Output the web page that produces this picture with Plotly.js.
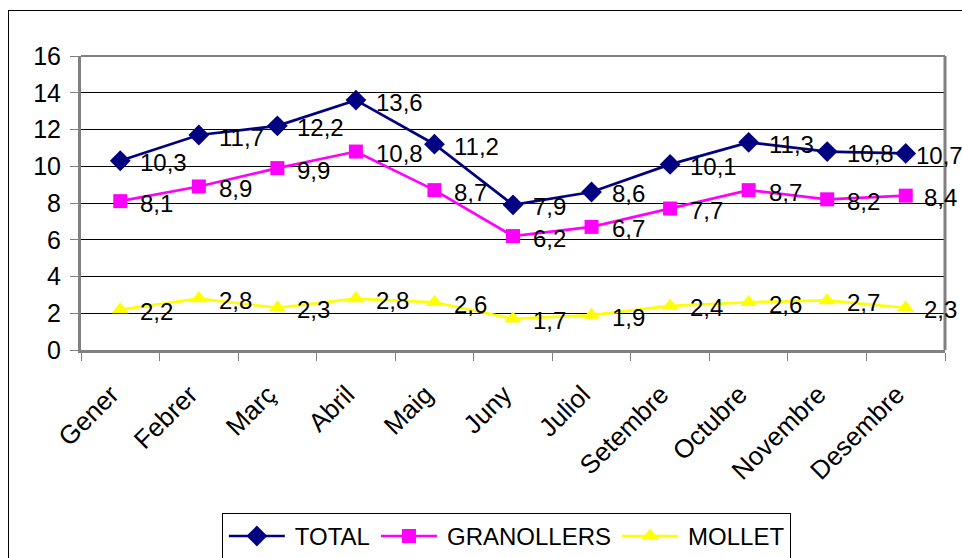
<!DOCTYPE html>
<html>
<head>
<meta charset="utf-8">
<script src="https://cdn.plot.ly/plotly-3.0.1.min.js"></script>
<style>
html,body{margin:0;padding:0;background:#fff;overflow:hidden;}
#chart{width:962px;height:558px;position:absolute;left:0;top:0;}
#frame{position:absolute;left:8px;top:10px;width:1000px;height:600px;border:1.5px solid #000;pointer-events:none;}
</style>
</head>
<body>
<div id="chart"></div>
<div id="frame"></div>
<script>
const months = ["Gener","Febrer","Març","Abril","Maig","Juny","Juliol","Setembre","Octubre","Novembre","Desembre"];
const total = [10.3, 11.7, 12.2, 13.6, 11.2, 7.9, 8.6, 10.1, 11.3, 10.8, 10.7];
const granollers = [8.1, 8.9, 9.9, 10.8, 8.7, 6.2, 6.7, 7.7, 8.7, 8.2, 8.4];
const mollet = [2.2, 2.8, 2.3, 2.8, 2.6, 1.7, 1.9, 2.4, 2.6, 2.7, 2.3];
const yTicks = [0, 2, 4, 6, 8, 10, 12, 14, 16];

const FONT = "Liberation Sans, Arial, sans-serif";

function series(name, vals, color, symbol, size) {
  return {
    type: "scatter", mode: "lines+markers", name: name,
    x: months, y: vals,
    line: {color: color, width: 2.7},
    marker: {color: color, symbol: symbol, size: size, line: {width: 0}},
    cliponaxis: false
  };
}

const traces = [
  series("TOTAL", total, "#000080", "diamond", 16),
  series("GRANOLLERS", granollers, "#FF00FF", "square", 14),
  series("MOLLET", mollet, "#FFFF00", "triangle-up", 15)
];

const fmt = v => v.toFixed(1).replace(".", ",");
const annotations = [];
[total, granollers, mollet].forEach((arr, s) => {
  arr.forEach((v, i) => {
    const last = i === arr.length - 1;
    annotations.push({
      x: months[i], y: v, xref: "x", yref: "y",
      text: fmt(v), showarrow: false,
      xanchor: "left", yanchor: "middle",
      xshift: last ? (s === 0 ? 8 : 16) : 18, yshift: -2,
      font: {family: FONT, size: 24, color: "#000"}
    });
  });
});

const layout = {
  width: 962, height: 558,
  margin: {l: 81, r: 17, t: 56, b: 208, autoexpand: false},
  paper_bgcolor: "#fff", plot_bgcolor: "#fff",
  font: {family: FONT, size: 24, color: "#000"},
  showlegend: true,
  legend: {
    orientation: "h", x: 0.163, y: -0.554, xanchor: "left", yanchor: "top",
    bordercolor: "#000", borderwidth: 1, bgcolor: "#fff",
    font: {family: FONT, size: 24, color: "#000"},
    itemwidth: 62, tracegroupgap: 0
  },
  xaxis: {
    type: "category",
    range: [-0.5, months.length - 0.5],
    autorange: false,
    automargin: false,
    tickangle: -45,
    ticks: "outside", ticklen: 8, tickcolor: "#808080", tickwidth: 1,
    tickson: "boundaries",
    showline: true, linecolor: "#808080", linewidth: 3,
    showgrid: false, zeroline: false,
    ticklabelstandoff: 16,
    ticklabelshift: -9,
    tickfont: {family: FONT, size: 26, color: "#000"},
    fixedrange: true
  },
  yaxis: {
    range: [0, 16], autorange: false, automargin: false,
    tickvals: yTicks, ticktext: yTicks.map(String),
    ticks: "outside", ticklen: 8, tickcolor: "#808080", tickwidth: 1,
    showline: true, linecolor: "#808080", linewidth: 3,
    showgrid: true, gridcolor: "#000", gridwidth: 1,
    zeroline: false,
    ticklabelstandoff: 4,
    tickfont: {family: FONT, size: 25, color: "#000"},
    fixedrange: true
  },
  shapes: [
    {type: "line", xref: "paper", yref: "paper", x0: 0, x1: 1, y0: 1, y1: 1, line: {color: "#808080", width: 2}},
    {type: "line", xref: "paper", yref: "paper", x0: 1, x1: 1, y0: 0, y1: 1, line: {color: "#808080", width: 3}}
  ],
  annotations: annotations
};

Plotly.newPlot("chart", traces, layout, {displayModeBar: false, staticPlot: true}).then(gd => {
  try {
    gd.querySelectorAll(".legend .legendlines path").forEach(p => p.setAttribute("d", "M6,0h56"));
    gd.querySelectorAll(".legend .legendsymbols path").forEach(p => p.setAttribute("transform", "translate(34,0)"));
  } catch (e) {}
});
</script>
</body>
</html>
